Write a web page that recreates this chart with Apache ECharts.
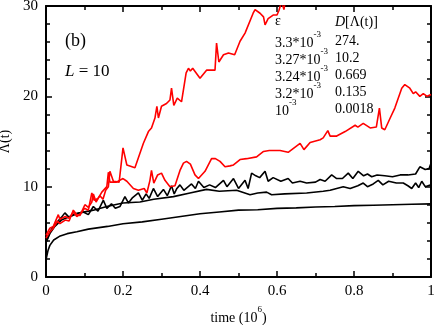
<!DOCTYPE html>
<html>
<head>
<meta charset="utf-8">
<script src="https://cdn.jsdelivr.net/npm/echarts@6/dist/echarts.min.js"></script>
<style>
  html, body { margin: 0; padding: 0; background: #fff; }
  #chart { width: 436px; height: 325px; }
</style>
</head>
<body>
<div id="chart"></div>
<script>
// time axis (10^6) and y values
const blackLowT = [0, 0.005, 0.01, 0.02, 0.035, 0.055, 0.08, 0.11, 0.16, 0.2, 0.25, 0.3, 0.35, 0.4, 0.45, 0.5, 0.55, 0.6, 0.65, 0.7, 0.75, 0.8, 0.85, 0.9, 0.95, 1.0]
const blackLowV = [1.9, 2.9, 3.5, 4.1, 4.5, 4.8, 5.0, 5.3, 5.6, 5.9, 6.1, 6.4, 6.7, 7.0, 7.2, 7.4, 7.45, 7.6, 7.65, 7.75, 7.8, 7.9, 7.95, 8.0, 8.05, 8.1]

const blackMidT = [0, 0.01, 0.023, 0.04, 0.062, 0.088, 0.123, 0.158, 0.2, 0.244, 0.28, 0.331, 0.374, 0.417, 0.45, 0.495, 0.53, 0.55, 0.573, 0.586, 0.62, 0.677, 0.72, 0.738, 0.772, 0.79, 0.81, 0.824, 0.835, 0.85, 0.863, 0.875, 0.89, 0.91, 0.928, 0.94, 0.95, 0.96, 0.968, 0.976, 0.985, 1.0]
const blackMidV = [3.8, 4.8, 5.6, 6.3, 6.7, 7.1, 7.4, 7.8, 8.2, 8.3, 8.6, 8.9, 9.3, 9.7, 9.5, 9.6, 9.1, 9.3, 9.4, 9.1, 9.2, 9.3, 9.5, 9.6, 10.0, 9.8, 10.1, 10.4, 10.0, 10.3, 10.7, 10.2, 10.6, 10.4, 10.4, 10.1, 9.8, 10.4, 9.9, 10.6, 10.0, 10.2]

const blackHighT = [0, 0.01, 0.025, 0.04, 0.049, 0.06, 0.075, 0.097, 0.11, 0.123, 0.135, 0.149, 0.158, 0.17, 0.18, 0.192, 0.205, 0.214, 0.225, 0.24, 0.25, 0.26, 0.268, 0.279, 0.29, 0.305, 0.315, 0.326, 0.333, 0.34, 0.348, 0.358, 0.378, 0.388, 0.396, 0.41, 0.425, 0.44, 0.461, 0.47, 0.487, 0.5, 0.517, 0.525, 0.534, 0.545, 0.555, 0.569, 0.577, 0.59, 0.61, 0.629, 0.64, 0.66, 0.677, 0.7, 0.712, 0.725, 0.742, 0.755, 0.77, 0.785, 0.797, 0.811, 0.825, 0.835, 0.846, 0.86, 0.88, 0.9, 0.92, 0.94, 0.96, 0.971, 0.985, 0.995, 1.0]
const blackHighV = [3.8, 5.0, 5.9, 6.6, 7.1, 6.6, 7.0, 7.2, 6.9, 7.8, 7.3, 8.5, 7.6, 8.1, 7.6, 7.8, 8.9, 8.2, 8.8, 9.3, 8.5, 9.2, 8.7, 9.8, 8.9, 9.7, 9.0, 10.1, 9.2, 9.8, 10.2, 9.6, 10.3, 9.8, 10.6, 9.9, 10.2, 9.9, 10.7, 10.0, 10.9, 9.8, 10.7, 9.8, 11.5, 11.2, 11.0, 11.7, 10.6, 11.0, 10.6, 10.9, 10.4, 10.6, 10.4, 10.5, 10.8, 10.6, 11.3, 10.9, 10.9, 11.5, 10.9, 11.7, 11.2, 11.4, 11.1, 11.3, 11.2, 11.1, 11.3, 11.3, 11.4, 12.2, 11.9, 12.0, 12.6]

const redLowT = [0, 0.01, 0.019, 0.03, 0.036, 0.05, 0.06, 0.071, 0.08, 0.088, 0.101, 0.11, 0.119, 0.123, 0.13, 0.145, 0.158, 0.162, 0.166, 0.183, 0.2, 0.21, 0.227, 0.24, 0.255, 0.262, 0.27, 0.274, 0.28, 0.29, 0.3, 0.309, 0.322, 0.335, 0.348, 0.357, 0.365, 0.375, 0.387, 0.396, 0.413, 0.43, 0.44, 0.452, 0.465, 0.478, 0.487, 0.504, 0.521, 0.547, 0.565, 0.58, 0.608, 0.629, 0.66, 0.67, 0.686, 0.712, 0.72, 0.732, 0.738, 0.755, 0.777, 0.803, 0.81, 0.824, 0.842, 0.858, 0.866, 0.872, 0.88, 0.894, 0.906, 0.924, 0.932, 0.945, 0.954, 0.96, 0.971, 0.98, 0.99, 1.0]
const redLowV = [4.3, 5.0, 5.4, 6.2, 5.9, 6.3, 6.2, 7.4, 6.9, 6.8, 8.0, 7.7, 8.3, 9.2, 8.3, 9.4, 10.0, 11.6, 10.5, 10.5, 10.9, 10.6, 9.8, 9.6, 9.8, 9.3, 10.7, 11.8, 10.4, 11.3, 11.5, 10.7, 10.0, 10.1, 11.8, 12.6, 12.8, 12.5, 11.3, 10.9, 11.7, 13.1, 13.1, 12.8, 12.2, 12.3, 12.4, 13.0, 13.1, 13.3, 13.9, 14.0, 14.0, 13.8, 14.8, 14.1, 14.9, 15.2, 15.4, 16.2, 15.6, 15.6, 16.1, 16.8, 16.6, 17.0, 16.5, 16.6, 18.7, 16.5, 16.3, 17.6, 18.7, 20.9, 21.3, 20.9, 20.3, 20.5, 20.0, 20.3, 20.0, 20.2]

const redHighT = [0, 0.01, 0.019, 0.032, 0.036, 0.05, 0.06, 0.071, 0.08, 0.09, 0.1, 0.11, 0.119, 0.125, 0.135, 0.14, 0.148, 0.155, 0.162, 0.166, 0.175, 0.19, 0.2, 0.21, 0.231, 0.244, 0.253, 0.266, 0.274, 0.283, 0.288, 0.292, 0.3, 0.313, 0.322, 0.326, 0.332, 0.341, 0.352, 0.364, 0.37, 0.375, 0.381, 0.4, 0.417, 0.439, 0.443, 0.449, 0.461, 0.474, 0.49, 0.504, 0.517, 0.538, 0.543, 0.556, 0.565, 0.569, 0.577, 0.59, 0.6, 0.605, 0.612, 0.618, 0.625, 0.65]
const redHighV = [4.6, 5.4, 5.6, 6.9, 6.4, 6.7, 6.5, 7.2, 6.7, 7.0, 7.6, 7.4, 9.3, 8.5, 8.7, 9.0, 8.6, 9.6, 10.0, 11.7, 10.6, 10.5, 14.3, 12.4, 12.1, 13.7, 14.8, 16.1, 16.5, 17.6, 18.9, 17.6, 18.9, 19.2, 19.6, 20.9, 19.0, 19.8, 19.4, 22.6, 23.1, 22.8, 23.1, 22.0, 22.9, 22.9, 25.9, 23.8, 24.6, 24.8, 24.6, 26.1, 27.0, 29.2, 29.6, 29.2, 28.8, 27.9, 28.6, 29.0, 29.0, 29.5, 30.5, 29.6, 31.5, 33.0]

const xTicks = [0, 0.2, 0.4, 0.6, 0.8, 1]
const yTicks = [0, 10, 20, 30]

const epsLabels = [['3.3*10', '-3'], ['3.27*10', '-3'], ['3.24*10', '-3'], ['3.2*10', '-3'], ['10', '-3']]
const dValues = ['274.', '10.2', '0.669', '0.135', '0.0018']

const serif = '"Liberation Serif", "DejaVu Serif", serif'

function pairs(t, v) {
  return t.map((x, i) => [x, v[i]])
}

function lineSeries(t, v, color) {
  return {
    type: 'line',
    data: pairs(t, v),
    showSymbol: false,
    smooth: false,
    clip: true,
    lineStyle: { color: color, width: 1.6 },
    animation: false
  }
}

// fresh style objects for every axis, ticks drawn inside the frame
function frameAxis(extra, minorSplit) {
  return Object.assign({
    axisLine: { show: true, onZero: false, lineStyle: { color: '#000', width: 2 } },
    axisTick: { show: true, inside: true, length: 6, lineStyle: { color: '#000', width: 1.5 } },
    minorTick: { show: true, splitNumber: minorSplit, length: 4, lineStyle: { color: '#000', width: 1.5 } },
    splitLine: { show: false }
  }, extra)
}

const chart = echarts.init(document.getElementById('chart'), null, { renderer: 'canvas' })

const tableGraphics = []
tableGraphics.push({
  type: 'text', x: 275, y: 21,
  style: { text: 'ε', font: '14px ' + serif, fill: '#000', textVerticalAlign: 'middle' }
})
tableGraphics.push({
  type: 'text', x: 335, y: 22,
  style: {
    text: '{i|D}{n|[Λ(t)]}', fill: '#000', textVerticalAlign: 'middle',
    rich: {
      i: { fontFamily: serif, fontSize: 14, fontStyle: 'italic' },
      n: { fontFamily: serif, fontSize: 14 }
    }
  }
})
epsLabels.forEach((e, i) => {
  const y = 41 + i * 17
  tableGraphics.push({
    type: 'text', x: 275, y: y - 1,
    style: {
      text: '{n|' + e[0] + '}{s|' + e[1] + '}', fill: '#000', textVerticalAlign: 'middle',
      rich: {
        n: { fontFamily: serif, fontSize: 14, lineHeight: 20, verticalAlign: 'bottom' },
        s: { fontFamily: serif, fontSize: 9, verticalAlign: 'top' }
      }
    }
  })
  tableGraphics.push({
    type: 'text', x: 335, y: y,
    style: { text: dValues[i], font: '14px ' + serif, fill: '#000', textVerticalAlign: 'middle' }
  })
})

chart.setOption({
  backgroundColor: '#fff',
  animation: false,
  grid: { left: 46, right: 5, top: 6, bottom: 48, outerBoundsMode: 'none', containLabel: false },
  xAxis: [
    frameAxis({
      type: 'value', min: 0, max: 1, interval: 0.2,
      position: 'bottom',
      axisLabel: {
        color: '#000', fontFamily: serif, fontSize: 15, margin: 7,
        formatter: v => (xTicks.indexOf(Math.round(v * 10) / 10) >= 0 ? String(Math.round(v * 10) / 10) : '')
      },
      name: '{a|time (10}{s|6}{a|)}',
      nameLocation: 'middle',
      nameGap: 28,
      nameTextStyle: {
        rich: {
          a: { fontFamily: serif, fontSize: 14, color: '#000', lineHeight: 20, verticalAlign: 'bottom' },
          s: { fontFamily: serif, fontSize: 9, color: '#000', verticalAlign: 'top' }
        }
      }
    }, 2),
    frameAxis({
      type: 'value', min: 0, max: 1, interval: 0.2,
      position: 'top',
      axisLabel: { show: false }
    }, 2)
  ],
  yAxis: [
    frameAxis({
      type: 'value', min: 0, max: 30, interval: 10,
      position: 'left',
      axisLabel: {
        color: '#000', fontFamily: serif, fontSize: 15, margin: 8,
        formatter: v => (yTicks.indexOf(v) >= 0 ? String(v) : '')
      },
      name: 'Λ(t)',
      nameLocation: 'middle',
      nameGap: 31,
      nameRotate: 90,
      nameTextStyle: { fontFamily: serif, fontSize: 14, color: '#000' }
    }, 5),
    frameAxis({
      type: 'value', min: 0, max: 30, interval: 10,
      position: 'right',
      axisLabel: { show: false }
    }, 5)
  ],
  series: [
    lineSeries(blackLowT, blackLowV, '#000'),
    lineSeries(blackMidT, blackMidV, '#000'),
    lineSeries(blackHighT, blackHighV, '#000'),
    lineSeries(redLowT, redLowV, '#ff0000'),
    lineSeries(redHighT, redHighV, '#ff0000')
  ],
  graphic: [
    {
      type: 'text', x: 65, y: 41,
      style: { text: '(b)', font: '18px ' + serif, fill: '#000', textVerticalAlign: 'middle' }
    },
    {
      type: 'text', x: 65, y: 72,
      style: {
        text: '{i|L}{n| = 10}', fill: '#000', textVerticalAlign: 'middle',
        rich: {
          i: { fontFamily: serif, fontSize: 17, fontStyle: 'italic' },
          n: { fontFamily: serif, fontSize: 17 }
        }
      }
    }
  ].concat(tableGraphics)
})
</script>
</body>
</html>
